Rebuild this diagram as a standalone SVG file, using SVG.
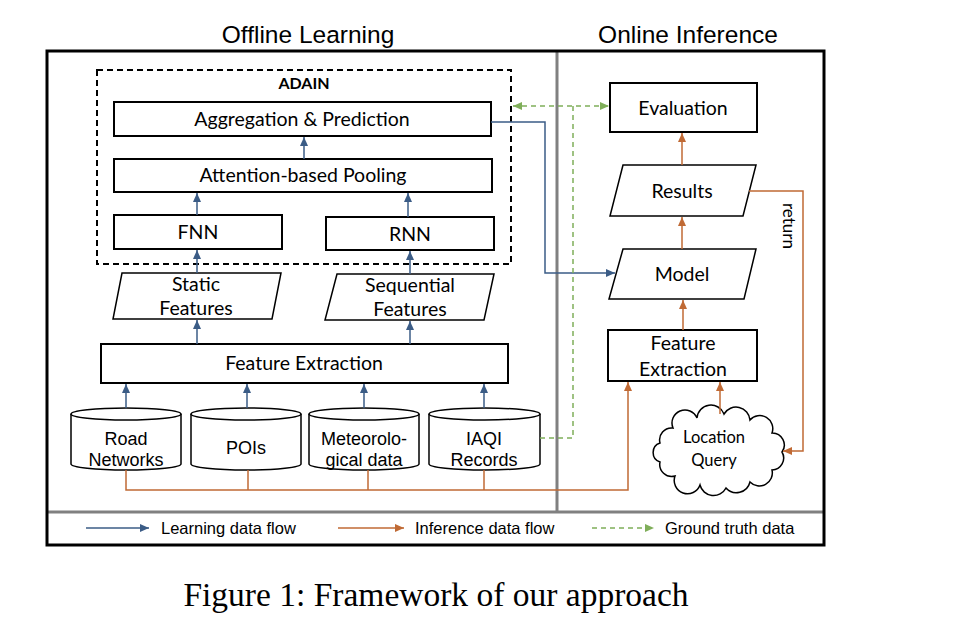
<svg xmlns="http://www.w3.org/2000/svg" width="962" height="642" viewBox="0 0 962 642">
<defs>
<style>
.box{fill:#fff;stroke:#000;stroke-width:2}
.cyl{fill:#fff;stroke:#000;stroke-width:1.5}
.t{font-family:Lato,"Open Sans",sans-serif;font-size:19.5px;fill:#000;text-anchor:middle}
.a{font-family:"Liberation Sans",Arial,sans-serif;font-size:18px;fill:#000;text-anchor:middle}
.lg{font-family:"Liberation Sans",Arial,sans-serif;font-size:16.5px;fill:#000}
.title{font-family:"Liberation Sans",Arial,sans-serif;font-size:24.5px;fill:#000;text-anchor:middle}
.blue{fill:none;stroke:#3B5C86;stroke-width:1.5}
.orange{fill:none;stroke:#C06A35;stroke-width:1.5}
.green{fill:none;stroke:#7FAE59;stroke-width:1.5;stroke-dasharray:5,4}
</style>
<marker id="mb" markerUnits="userSpaceOnUse" markerWidth="9" markerHeight="8" refX="9" refY="4" orient="auto"><path d="M0,0 L9,4 L0,8 z" fill="#3B5C86"/></marker>
<marker id="mo" markerUnits="userSpaceOnUse" markerWidth="9" markerHeight="8" refX="9" refY="4" orient="auto"><path d="M0,0 L9,4 L0,8 z" fill="#C06A35"/></marker>
<marker id="mg" markerUnits="userSpaceOnUse" markerWidth="9" markerHeight="8" refX="9" refY="4" orient="auto-start-reverse"><path d="M0,0 L9,4 L0,8 z" fill="#7FAE59"/></marker>
</defs>
<rect width="962" height="642" fill="#fff"/>

<!-- titles -->
<text class="title" x="308" y="43">Offline Learning</text>
<text class="title" x="688" y="43">Online Inference</text>

<!-- frame -->
<g id="frame">
<line x1="557" y1="52" x2="557" y2="511" stroke="#808080" stroke-width="3"/>
<line x1="48" y1="512" x2="823" y2="512" stroke="#808080" stroke-width="3"/>
<rect x="47" y="51" width="777" height="494" fill="none" stroke="#000" stroke-width="3"/>
</g>

<!-- ADAIN -->
<g id="adain">
<rect x="97" y="70" width="414" height="194" fill="none" stroke="#000" stroke-width="2" stroke-dasharray="6,4"/>
<text x="304" y="89" font-family="Lato,'Open Sans',sans-serif" font-size="16" font-weight="bold" text-anchor="middle">ADAIN</text>
</g>

<g id="aggregation"><rect class="box" x="114" y="102" width="377" height="34"/><text class="t" x="302" y="126">Aggregation &amp; Prediction</text></g>
<g id="attention"><rect class="box" x="114" y="159" width="378" height="33"/><text class="t" x="303" y="182">Attention-based Pooling</text></g>
<g id="fnn"><rect class="box" x="114" y="215" width="168" height="34"/><text class="t" x="198" y="239">FNN</text></g>
<g id="rnn"><rect class="box" x="326" y="217" width="168" height="33"/><text class="t" x="410" y="241">RNN</text></g>

<g id="static"><polygon class="cyl" points="122,273 281,273 272,319 113,319"/><text class="t" x="196" y="291">Static</text><text class="t" x="196" y="315">Features</text></g>
<g id="sequential"><polygon class="cyl" points="337,274 494,274 484,320 325,320"/><text class="t" x="410" y="292">Sequential</text><text class="t" x="410" y="316">Features</text></g>

<g id="fe-left"><rect class="box" x="101" y="344" width="407" height="39"/><text class="t" x="304" y="370">Feature Extraction</text></g>

<g id="road"><path class="cyl" d="M71,414 A55,6 0 0 1 181,414 L181,464 A55,6 0 0 1 71,464 Z"/><path class="cyl" fill="none" d="M71,414 A55,6 0 0 0 181,414"/><text class="a" x="126" y="445">Road</text><text class="a" x="126" y="466">Networks</text></g>
<g id="pois"><path class="cyl" d="M191,414 A55,6 0 0 1 301,414 L301,464 A55,6 0 0 1 191,464 Z"/><path class="cyl" fill="none" d="M191,414 A55,6 0 0 0 301,414"/><text class="a" x="246" y="454">POIs</text></g>
<g id="meteo"><path class="cyl" d="M309,414 A55,6 0 0 1 419,414 L419,464 A55,6 0 0 1 309,464 Z"/><path class="cyl" fill="none" d="M309,414 A55,6 0 0 0 419,414"/><text class="a" x="364" y="445">Meteorolo-</text><text class="a" x="364" y="466">gical data</text></g>
<g id="iaqi"><path class="cyl" d="M429,414 A55.5,6 0 0 1 540,414 L540,464 A55.5,6 0 0 1 429,464 Z"/><path class="cyl" fill="none" d="M429,414 A55.5,6 0 0 0 540,414"/><text class="a" x="484" y="445">IAQI</text><text class="a" x="484" y="466">Records</text></g>

<!-- online -->
<g id="evaluation"><rect class="box" x="610" y="83" width="147" height="49"/><text class="t" x="683" y="115">Evaluation</text></g>
<g id="results"><polygon class="cyl" points="623,165 756,165 743,216 610,216"/><text class="t" x="682" y="198">Results</text></g>
<g id="model"><polygon class="cyl" points="623,249 756,249 744,299 609,299"/><text class="t" x="682" y="281">Model</text></g>
<g id="fe-right"><rect class="box" x="608" y="330" width="149" height="51"/><text class="t" x="683" y="350">Feature</text><text class="t" x="683" y="376">Extraction</text></g>
<g id="query">
<path class="cyl" d="M782,452 A12,12 0 0 1 772,470 A13,13 0 0 1 750,482 A14,14 0 0 1 726,488 A14,14 0 0 1 700,485 A13,13 0 0 1 675,476 A12,12 0 0 1 660,462 A10,10 0 0 1 660,443 A12,12 0 0 1 673,428 A13,13 0 0 1 697,418 A14,14 0 0 1 724,414 A14,14 0 0 1 750,420 A13,13 0 0 1 772,433 A12,12 0 0 1 782,452 Z"/>
<text x="714" y="443" font-family="Lato,'Open Sans',sans-serif" font-size="16.5" text-anchor="middle">Location</text>
<text x="714" y="466" font-family="Lato,'Open Sans',sans-serif" font-size="16.5" text-anchor="middle">Query</text>
</g>

<!-- connectors -->
<g id="connectors">
<line class="blue" x1="304" y1="159" x2="304" y2="137" marker-end="url(#mb)"/>
<line class="blue" x1="197" y1="215" x2="197" y2="193" marker-end="url(#mb)"/>
<line class="blue" x1="408" y1="217" x2="408" y2="193" marker-end="url(#mb)"/>
<line class="blue" x1="197" y1="273" x2="197" y2="250" marker-end="url(#mb)"/>
<line class="blue" x1="410" y1="274" x2="410" y2="251" marker-end="url(#mb)"/>
<line class="blue" x1="197" y1="344" x2="197" y2="320" marker-end="url(#mb)"/>
<line class="blue" x1="410" y1="344" x2="410" y2="321" marker-end="url(#mb)"/>
<line class="blue" x1="126" y1="408" x2="126" y2="384" marker-end="url(#mb)"/>
<line class="blue" x1="247" y1="408" x2="247" y2="384" marker-end="url(#mb)"/>
<line class="blue" x1="364" y1="408" x2="364" y2="384" marker-end="url(#mb)"/>
<line class="blue" x1="484" y1="408" x2="484" y2="384" marker-end="url(#mb)"/>
<polyline class="blue" points="491,122 545,122 545,273 615,273" marker-end="url(#mb)"/>

<polyline class="orange" points="126,470 126,490 628,490 628,382" marker-end="url(#mo)"/>
<line class="orange" x1="248" y1="470" x2="248" y2="490"/>
<line class="orange" x1="368" y1="470" x2="368" y2="490"/>
<line class="orange" x1="484" y1="470" x2="484" y2="490"/>
<line class="orange" x1="720" y1="414" x2="720" y2="382" marker-end="url(#mo)"/>
<line class="orange" x1="683" y1="330" x2="683" y2="300" marker-end="url(#mo)"/>
<line class="orange" x1="682" y1="249" x2="682" y2="217" marker-end="url(#mo)"/>
<line class="orange" x1="682" y1="165" x2="682" y2="133" marker-end="url(#mo)"/>
<polyline class="orange" points="749,191 803,191 803,451 783,451" marker-end="url(#mo)"/>

<line class="green" x1="513" y1="106" x2="609" y2="106" marker-start="url(#mg)" marker-end="url(#mg)"/>
<polyline class="green" points="540,438 573,438 573,106"/>
</g>
<text x="787" y="226" transform="rotate(90 787 226)" font-family="Lato,'Open Sans',sans-serif" font-size="17" text-anchor="middle" dominant-baseline="middle">return</text>

<!-- legend -->
<g id="legend">
<line class="blue" x1="86" y1="528" x2="149" y2="528" marker-end="url(#mb)"/>
<text class="lg" x="161" y="534">Learning data flow</text>
<line class="orange" x1="338" y1="528" x2="404" y2="528" marker-end="url(#mo)"/>
<text class="lg" x="415" y="534">Inference data flow</text>
<line class="green" x1="592" y1="528" x2="654" y2="528" marker-end="url(#mg)"/>
<text class="lg" x="665" y="534">Ground truth data</text>
</g>

<text x="436" y="606" font-family="'Liberation Serif','Times New Roman',serif" font-size="33.5" text-anchor="middle">Figure 1: Framework of our approach</text>
</svg>
